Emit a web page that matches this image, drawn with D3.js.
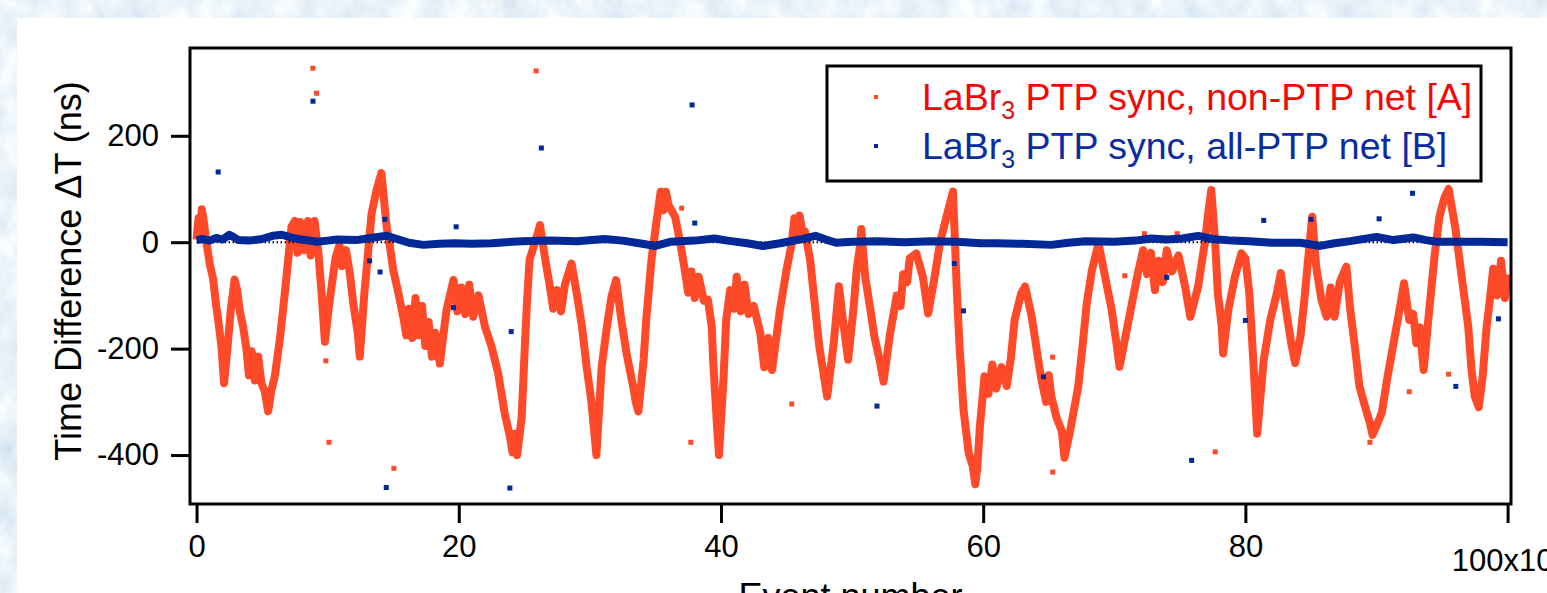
<!DOCTYPE html>
<html>
<head>
<meta charset="utf-8">
<script src="https://cdn.jsdelivr.net/npm/d3@7"></script>
<style>
  html, body { margin: 0; padding: 0; background: #fff; }
  svg { display: block; }
  text { font-family: "Liberation Sans", Arial, sans-serif; }
</style>
</head>
<body>
<svg id="chart" width="1547" height="593"></svg>
<script>
// Event number axis (units of 10^3 events) and time difference axis (ns)
const eventTicks = [0, 20, 40, 60, 80, 100];
const dtTicks = [200, 0, -200, -400];

// Series A: LaBr3 PTP sync, non-PTP network -- dense event trace (event, ns)
const nonPtpEvent = [
  0.0, 0.15, 0.3, 0.4, 0.55, 0.75, 1.0, 1.27, 1.5, 1.65, 1.9, 2.1, 2.35, 2.6, 2.9, 3.1, 3.3, 3.56, 3.8, 4.0,
  4.2, 4.45, 4.7, 4.95, 5.2, 5.46, 5.7, 5.97, 6.35, 6.73, 6.99, 7.24, 7.5, 7.7, 7.9, 8.2, 8.5, 8.7, 9.0, 9.3,
  9.55, 9.79, 10.1, 10.4, 10.6, 10.9, 11.1, 11.4, 11.7, 11.95, 12.3, 12.45, 12.8, 13.1, 13.35, 13.73, 14.1, 14.5, 14.75, 15.0,
  15.4, 15.76, 16.0, 16.2, 16.45, 16.7, 16.95, 17.2, 17.45, 17.7, 17.95, 18.2, 18.56, 18.8, 19.07, 19.6, 19.9, 20.2, 20.5, 20.8,
  21.1, 21.5, 22.0, 22.5, 23.0, 23.5, 23.9, 24.1, 24.3, 24.45, 24.6, 24.8, 25.04, 25.2, 25.4, 25.8, 26.2, 26.6, 26.95, 27.2,
  27.5, 27.8, 28.1, 28.6, 29.0, 29.4, 29.75, 30.1, 30.5, 30.9, 31.3, 31.65, 32.0, 32.4, 32.8, 33.3, 33.5, 33.7, 34.1, 34.3,
  34.7, 35.1, 35.4, 35.6, 35.8, 36.0, 36.5, 36.9, 37.2, 37.5, 37.75, 38.0, 38.3, 38.7, 39.0, 39.3, 39.4, 39.7, 39.85, 40.2,
  40.4, 40.7, 41.0, 41.2, 41.5, 41.8, 42.1, 42.5, 43.0, 43.3, 43.6, 43.9, 44.5, 45.0, 45.4, 45.6, 45.8, 46.0, 46.2, 46.4,
  46.8, 47.2, 47.5, 48.1, 48.6, 49.0, 49.3, 49.7, 50.1, 50.35, 50.6, 50.7, 51.0, 51.4, 51.7, 52.1, 52.4, 52.9, 53.2, 53.4,
  53.7, 53.9, 54.2, 54.4, 54.9, 55.4, 55.8, 56.3, 56.7, 57.2, 57.7, 57.85, 58.0, 58.2, 58.5, 58.9, 59.2, 59.4, 59.55, 59.75,
  60.1, 60.4, 60.7, 61.0, 61.4, 61.8, 62.1, 62.4, 62.9, 63.2, 63.7, 64.2, 64.45, 64.8, 65.0, 65.2, 65.6, 66.0, 66.2, 66.7,
  67.25, 67.6, 67.9, 68.3, 68.8, 69.3, 69.8, 70.2, 70.4, 70.9, 71.4, 71.8, 72.2, 72.5, 72.8, 73.1, 73.4, 73.7, 74.0, 74.4,
  74.9, 75.4, 75.8, 76.4, 76.9, 77.2, 77.4, 77.7, 77.9, 78.2, 78.3, 78.7, 79.2, 79.7, 80.0, 80.3, 80.6, 80.9, 81.4, 81.9,
  82.4, 82.7, 83.1, 83.5, 83.8, 84.2, 84.5, 84.9, 85.1, 85.4, 85.8, 86.2, 86.5, 86.8, 87.2, 87.7, 88.0, 88.35, 88.7, 89.2,
  89.5, 89.7, 90.0, 90.4, 90.8, 91.3, 91.8, 92.1, 92.5, 92.8, 93.05, 93.3, 93.6, 93.9, 94.2, 94.45, 94.8, 95.2, 95.5, 96.0,
  96.5, 97.0, 97.25, 97.5, 97.8, 98.1, 98.4, 98.65, 98.9, 99.2, 99.5, 99.8, 100.0
];
const nonPtpDt = [
  5, 45, 20, 62, 40, 0, -40, -70, -120, -146, -196, -265, -200, -130, -70, -90, -130, -160, -200, -250,
  -205, -260, -215, -265, -280, -318, -280, -252, -183, -96, -33, 29, 40, -20, 38, -15, 40, -25, 40, -21,
  -100, -187, -120, -65, -30, -5, -45, -15, -60, -115, -171, -215, -96, -15, 54, 98, 130, 29, -8, -52,
  -96, -140, -175, -125, -180, -105, -175, -120, -195, -150, -215, -170, -228, -180, -127, -71, -130, -85, -135, -80,
  -140, -100, -159, -196, -246, -321, -365, -395, -360, -400, -370, -328, -196, -115, -33, -2, 32, -33, -83, -125,
  -90, -130, -80, -40, -96, -159, -234, -296, -400, -234, -159, -102, -71, -146, -209, -271, -300, -318, -221, -146,
  -33, 42, 95, 60, 95, 70, 48, -2, -46, -95, -55, -105, -65, -110, -108, -159, -221, -346, -400, -253,
  -146, -90, -125, -65, -130, -80, -135, -120, -171, -235, -180, -240, -127, -52, -2, 45, 15, 50, 20, 20,
  -33, -127, -196, -290, -190, -83, -146, -221, -127, -52, -8, 25, -65, -127, -177, -221, -262, -171, -130, -100,
  -120, -60, -75, -30, -21, -65, -134, -65, -2, 48, 95, -2, -96, -196, -315, -397, -420, -455, -425, -346,
  -252, -285, -230, -275, -235, -270, -220, -146, -96, -83, -140, -221, -259, -300, -250, -290, -330, -355, -405, -346,
  -271, -190, -115, -52, -2, -65, -127, -196, -234, -171, -108, -58, -15, -60, -20, -90, -35, -75, -15, -55,
  -25, -83, -140, -83, -2, 61, 98, -2, -96, -159, -209, -127, -65, -21, -30, -96, -221, -360, -221, -146,
  -96, -58, -127, -190, -227, -177, -108, -2, 48, -46, -108, -140, -85, -140, -75, -46, -127, -196, -271, -315,
  -340, -362, -345, -321, -259, -190, -121, -77, -146, -135, -190, -160, -240, -159, -83, -21, 48, 85, 100, 29,
  -65, -159, -240, -290, -310, -252, -159, -108, -50, -100, -35, -105, -60
];
// Series A: isolated events away from the trace
const nonPtpStrayEvent = [8.87, 9.15, 9.86, 10.1, 15.05, 25.9, 37.0, 37.7, 45.4, 65.3, 65.3, 70.8, 72.3, 74.8, 77.7, 89.5, 92.5, 95.5];
const nonPtpStrayDt    = [327, 280, -223, -376, -425, 322, 64, -376, -304, -216, -432, -63, 16, 16, -394, -376, -281, -248];

// Series B: LaBr3 PTP sync, all-PTP network -- trace near zero (event, ns)
const allPtpEvent = [
  0, 0.5, 1, 1.5, 2, 2.5, 2.8, 3.2, 4, 5, 5.8, 6.5, 7.2, 8, 9.2, 10, 10.7, 12.2, 13, 14.5,
  15.3, 16.2, 17.3, 18.5, 19.7, 21, 22.5, 24.8, 27, 29, 31.1, 32.5, 34, 35, 36.2, 38, 39.5, 40.5, 42, 43.2,
  44.5, 46, 47.2, 48, 48.8, 50, 52, 54, 56, 58, 59.8, 61, 63, 65.2, 66.5, 67.8, 70, 71.6, 72.8, 74,
  75.2, 76.4, 77.5, 79, 80.3, 82, 84.2, 85.7, 86.8, 88, 90, 91.3, 92.8, 93.8, 94.6, 96, 98, 100
];
const allPtpDt = [
  4, 6, 3, 8, 5, 14, 10, 4, 3, 6, 12, 14, 9, 5, 1, 3, 5, 4, 7, 12,
  6, -1, -5, -3, -2, -3, -2, 2, 3, 2, 6, 3, -3, -7, 1, 3, 7, 3, -2, -7,
  -2, 5, 12, 5, -1, 1, 2, 0, 2, 1, -2, -2, -3, -5, -1, 2, 1, 3, 7, 5,
  7, 12, 6, 3, 2, -1, -1, -7, -2, 2, 10, 4, 9, 4, 1, 1, 1, 0
];
// Series B: isolated events away from the trace
const allPtpStrayEvent = [1.65, 8.88, 13.2, 14.0, 14.36, 14.47, 19.6, 19.8, 23.9, 24.0, 26.3, 37.8, 38.0, 51.9, 57.8, 58.5, 64.6, 74.0, 75.9, 80.0, 81.4, 85.0, 90.2, 92.75, 96.05, 99.3];
const allPtpStrayDt    = [132, 265, -35, -56, 43, -461, -123, 29, -462, -168, 177, 258, 36, -308, -40, -129, -253, -66, -410, -147, 41, 43, 44, 92, -271, -144];

const seriesNames = ["PTP sync, non-PTP net [A]", "PTP sync, all-PTP net [B]"];
const seriesColors = ["#ff4a2a", "#002896"];
const legendTextColors = ["#f20808", "#0a2ca0"];

const W = 1547, H = 593;
const svg = d3.select("#chart");
const defs = svg.append("defs");

// Mottled light-blue slide background
const f = defs.append("filter").attr("id", "mottle")
  .attr("x", 0).attr("y", 0).attr("width", "100%").attr("height", "100%");
f.append("feTurbulence").attr("type", "fractalNoise")
  .attr("baseFrequency", "0.04 0.03").attr("numOctaves", 4).attr("seed", 7);
f.append("feColorMatrix").attr("type", "matrix")
  .attr("values", "0.45 0 0 0 0.60  0.35 0 0 0 0.72  0.2 0 0 0 0.85  0 0 0 0 1");
svg.append("rect").attr("width", W).attr("height", H).attr("filter", "url(#mottle)");

// White panel
svg.append("rect").attr("x", 17).attr("y", 18).attr("width", W - 17).attr("height", H - 18).attr("fill", "#fff");

const plot = { left: 190, top: 48, right: 1511, bottom: 504 };
const x = d3.scaleLinear().domain([-0.5, 100.26]).range([plot.left, plot.right]);
const y = d3.scaleLinear().domain([-492, 365]).range([plot.bottom, plot.top]);

defs.append("clipPath").attr("id", "plotclip").append("rect")
  .attr("x", plot.left).attr("y", plot.top)
  .attr("width", plot.right - plot.left).attr("height", plot.bottom - plot.top);

const g = svg.append("g").attr("clip-path", "url(#plotclip)");

const line = d3.line().x(d => x(d[0])).y(d => y(d[1]));

// Series A trace
g.append("path")
  .datum(d3.zip(nonPtpEvent, nonPtpDt))
  .attr("d", line)
  .attr("fill", "none")
  .attr("stroke", seriesColors[0])
  .attr("stroke-width", 8)
  .attr("stroke-linejoin", "round");

const marker = 5;
g.selectAll("rect.strayA").data(d3.zip(nonPtpStrayEvent, nonPtpStrayDt)).join("rect")
  .attr("class", "strayA")
  .attr("x", d => x(d[0]) - marker / 2).attr("y", d => y(d[1]) - marker / 2)
  .attr("width", marker).attr("height", marker).attr("fill", seriesColors[0]);

// Zero reference, dotted
g.append("line")
  .attr("x1", x(0)).attr("x2", x(100)).attr("y1", y(0)).attr("y2", y(0))
  .attr("stroke", "#000").attr("stroke-width", 2).attr("stroke-dasharray", "1.5 2.5");

// Series B trace
g.append("path")
  .datum(d3.zip(allPtpEvent, allPtpDt))
  .attr("d", line)
  .attr("fill", "none")
  .attr("stroke", seriesColors[1])
  .attr("stroke-width", 8)
  .attr("stroke-linejoin", "round");

g.selectAll("rect.strayB").data(d3.zip(allPtpStrayEvent, allPtpStrayDt)).join("rect")
  .attr("class", "strayB")
  .attr("x", d => x(d[0]) - marker / 2).attr("y", d => y(d[1]) - marker / 2)
  .attr("width", marker).attr("height", marker).attr("fill", seriesColors[1]);

// Frame
svg.append("rect")
  .attr("x", plot.left).attr("y", plot.top)
  .attr("width", plot.right - plot.left).attr("height", plot.bottom - plot.top)
  .attr("fill", "none").attr("stroke", "#000").attr("stroke-width", 3);

// Axes
const yAxis = d3.axisLeft(y).tickValues(dtTicks).tickSize(19).tickPadding(12).tickFormat(d3.format("d"));
const ya = svg.append("g").attr("transform", `translate(${plot.left},0)`).call(yAxis);
ya.select(".domain").remove();
ya.selectAll(".tick line").attr("stroke", "#000").attr("stroke-width", 3);
ya.selectAll(".tick text").attr("font-size", 31).attr("fill", "#000")
  .attr("font-family", "Liberation Sans, Arial, sans-serif")
  .text(d => d < 0 ? "-" + Math.abs(d) : d);

const xAxis = d3.axisBottom(x).tickValues(eventTicks).tickSize(19).tickPadding(12).tickFormat(d3.format("d"));
const xa = svg.append("g").attr("transform", `translate(0,${plot.bottom})`).call(xAxis);
xa.select(".domain").remove();
xa.selectAll(".tick line").attr("stroke", "#000").attr("stroke-width", 3);
xa.selectAll(".tick text").attr("font-size", 31).attr("fill", "#000")
  .attr("font-family", "Liberation Sans, Arial, sans-serif");
// last tick carries the 10^3 multiplier
const lastTick = xa.selectAll(".tick text").filter(d => d === eventTicks[eventTicks.length - 1]);
lastTick.text(null).attr("dy", "1.15em");
lastTick.append("tspan").text(eventTicks[eventTicks.length - 1] + "x10");
lastTick.append("tspan").text("3").attr("font-size", 20).attr("dy", "-0.6em");

// Axis titles
svg.append("text")
  .attr("transform", `translate(81,${(plot.top + plot.bottom) / 2 - 5}) rotate(-90)`)
  .attr("text-anchor", "middle").attr("font-size", 36).attr("fill", "#000")
  .text("Time Difference \u0394T (ns)");

svg.append("text")
  .attr("x", (plot.left + plot.right) / 2).attr("y", 609)
  .attr("text-anchor", "middle").attr("font-size", 36).attr("fill", "#000")
  .text("Event number");

// Legend
const lg = svg.append("g");
lg.append("rect").attr("x", 827).attr("y", 66).attr("width", 654).attr("height", 115)
  .attr("fill", "#fff").attr("stroke", "#000").attr("stroke-width", 3);
seriesNames.forEach((name, i) => {
  const cy = 97 + i * 49;
  lg.append("rect").attr("x", 874).attr("y", cy - 2).attr("width", 4).attr("height", 4).attr("fill", seriesColors[i]);
  const t = lg.append("text").attr("x", 922).attr("y", cy + 13).attr("font-size", 37.5).attr("fill", legendTextColors[i]);
  t.append("tspan").text("LaBr");
  t.append("tspan").text("3").attr("font-size", 25).attr("dy", 9);
  t.append("tspan").text(" " + name).attr("dy", -9);
});
</script>
</body>
</html>
